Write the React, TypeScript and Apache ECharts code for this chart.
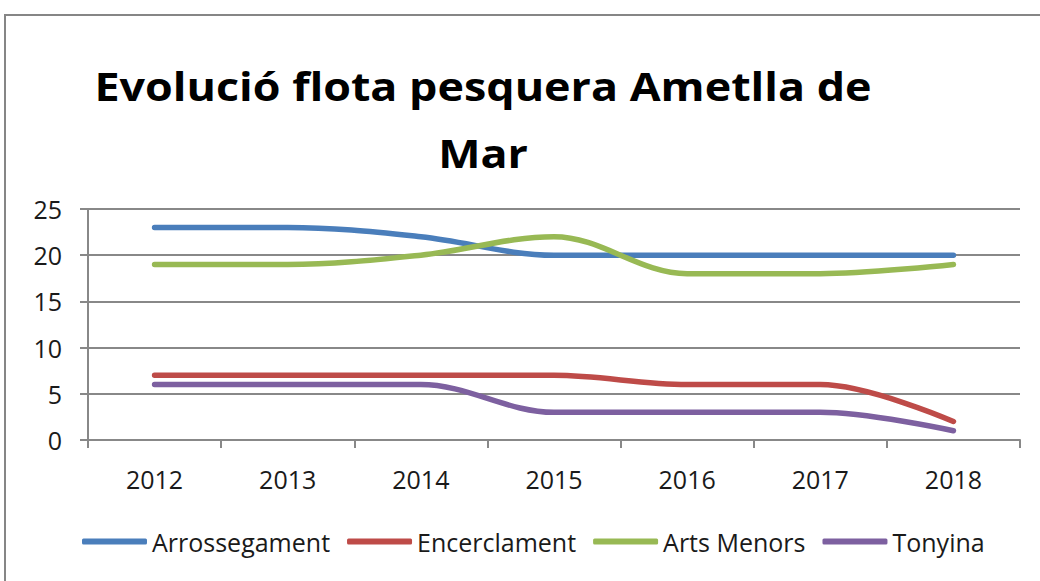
import React, { useEffect, useRef } from "react";
import * as echarts from "echarts";

const years = ["2012", "2013", "2014", "2015", "2016", "2017", "2018"];
const arrossegament = [23, 23, 22, 20, 20, 20, 20];
const encerclament = [7, 7, 7, 7, 6, 6, 2];
const artsMenors = [19, 19, 20, 22, 18, 18, 19];
const tonyina = [6, 6, 6, 3, 3, 3, 1];
const titleLines = ["Evolució flota pesquera Ametlla de", "Mar"];

const FONT = '"Open Sans", "Noto Sans", sans-serif';

export default function App() {
  const ref = useRef<HTMLDivElement>(null);
  useEffect(() => {
    if (!ref.current) return;
    const chart = echarts.init(ref.current, undefined, { renderer: "svg" });
    const mk = (name: string, data: number[], color: string) => ({
      name,
      type: "line",
      data,
      smooth: 0.35,
      symbol: "none",
      lineStyle: { color, width: 5.5, cap: "round", join: "round" },
      itemStyle: { color },
    });
    chart.setOption({
      animation: false,
      backgroundColor: "#fff",
      graphic: [
        {
          type: "rect",
          shape: { x: 5, y: 15, width: 1200, height: 800 },
          style: { fill: "none", stroke: "#868686", lineWidth: 2 },
          silent: true,
        },
        {
          type: "text",
          x: 483,
          y: 86,
          scaleX: 1.15,
          style: {
            text: titleLines[0],
            align: "center",
            verticalAlign: "middle",
            font: `bold 39px ${FONT}`,
            fill: "#000",
          },
        },
        {
          type: "text",
          x: 483,
          y: 153,
          scaleX: 1.15,
          style: {
            text: titleLines[1],
            align: "center",
            verticalAlign: "middle",
            font: `bold 39px ${FONT}`,
            fill: "#000",
          },
        },
      ],
      grid: { left: 88, right: 20, top: 209, bottom: 141, containLabel: false },
      legend: {
        left: 77,
        top: 524,
        icon: "roundRect",
        itemWidth: 65,
        itemHeight: 6,
        itemGap: 17,
        textStyle: { fontFamily: FONT, fontSize: 25, color: "#1a1a1a" },
        data: ["Arrossegament", "Encerclament", "Arts Menors", "Tonyina"],
      },
      xAxis: {
        type: "category",
        data: years,
        boundaryGap: true,
        axisLine: { lineStyle: { color: "#888", width: 2 } },
        axisTick: { show: true, length: 8, lineStyle: { color: "#888", width: 2 } },
        axisLabel: { fontFamily: FONT, fontSize: 25, color: "#1a1a1a", margin: 26 },
        splitLine: { show: false },
      },
      yAxis: {
        type: "value",
        min: 0,
        max: 25,
        interval: 5,
        axisLine: { show: true, lineStyle: { color: "#888", width: 2 } },
        axisTick: { show: true, length: 8, lineStyle: { color: "#888", width: 2 } },
        axisLabel: { fontFamily: FONT, fontSize: 25, color: "#1a1a1a", margin: 26 },
        splitLine: { lineStyle: { color: "#888", width: 2 } },
      },
      series: [
        mk("Arrossegament", arrossegament, "#4a7ebb"),
        mk("Encerclament", encerclament, "#be4b48"),
        mk("Arts Menors", artsMenors, "#98b954"),
        mk("Tonyina", tonyina, "#7d60a0"),
      ],
    });
    return () => chart.dispose();
  }, []);
  return (
    <div
      ref={ref}
      style={{ position: "fixed", left: 0, top: 0, width: 1040, height: 581, background: "#fff" }}
    />
  );
}
